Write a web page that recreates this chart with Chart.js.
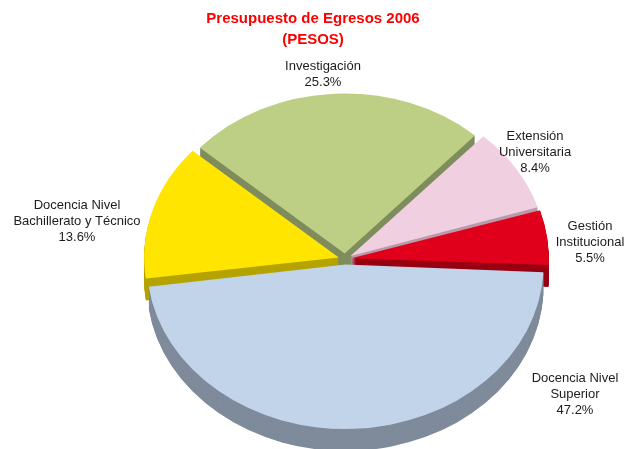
<!DOCTYPE html>
<html><head><meta charset="utf-8">
<script src="https://cdn.jsdelivr.net/npm/chart.js@4"></script>
<style>html,body{margin:0;background:#fff}canvas{display:block}</style>
</head><body>
<canvas id="egresosChart" width="626" height="449"></canvas>
<script>
const categories = ["Docencia Nivel Superior", "Docencia Nivel Bachillerato y Técnico", "Investigación", "Extensión Universitaria", "Gestión Institucional"];
const shares = [47.2, 13.6, 25.3, 8.4, 5.5];
const labelLines = [["Docencia Nivel", "Superior"], ["Docencia Nivel", "Bachillerato y Técnico"], ["Investigación"], ["Extensión", "Universitaria"], ["Gestión", "Institucional"]];
const topColors = ["#c2d4e9", "#ffe500", "#bccf84", "#f0cfe0", "#e0001b"];
const sideColors = ["#7f8b9b", "#b5a300", "#7f8c5c", "#b99aaa", "#980012"];
const labelSpots = [[575, 378], [77, 205], [323, 66], [535, 136], [590, 226]];

const font = "Arial, 'Liberation Sans', sans-serif";
const tilt = 0.83, depth = 22, center = { x: 345, y: 259 };

// squash the pie into an ellipse around the wanted centre
function tiltCtx(chart, dy) {
  const ctx = chart.ctx, arc = chart.getDatasetMeta(0).data[0];
  ctx.translate(center.x, center.y + dy);
  ctx.scale(1, tilt);
  ctx.translate(-arc.x, -arc.y);
}

const pie3d = {
  id: "pie3d",
  beforeDatasetsDraw(chart) {
    const ctx = chart.ctx, arcs = chart.getDatasetMeta(0).data;
    // stack darker copies of every slice underneath to fake the depth
    for (let d = depth; d > 0; d--) {
      ctx.save();
      tiltCtx(chart, d);
      arcs.forEach((arc, i) => {
        const side = Object.create(arc);
        side.options = Object.assign({}, arc.options, { backgroundColor: sideColors[i], borderColor: sideColors[i] });
        arc.draw.call(side, ctx);
      });
      ctx.restore();
    }
    ctx.save();
    tiltCtx(chart, 0);
  },
  afterDatasetsDraw(chart) {
    chart.ctx.restore();
  },
  afterDraw(chart) {
    const ctx = chart.ctx;
    ctx.save();
    ctx.font = "13px " + font;
    ctx.fillStyle = "#1c1c1c";
    ctx.textAlign = "center";
    ctx.textBaseline = "middle";
    labelLines.forEach((lines, i) => {
      const [x, y] = labelSpots[i];
      lines.concat(shares[i].toFixed(1) + "%").forEach((t, j) => ctx.fillText(t, x, y + j * 16));
    });
    ctx.restore();
  }
};

new Chart(document.getElementById("egresosChart"), {
  type: "pie",
  data: {
    labels: categories,
    datasets: [{ data: shares, backgroundColor: topColors, borderWidth: 0, offset: 26, radius: 193, clip: false }]
  },
  options: {
    responsive: false,
    animation: false,
    rotation: 92.5,
    events: [],
    plugins: {
      legend: { display: false },
      tooltip: { enabled: false },
      title: {
        display: true,
        text: ["Presupuesto de Egresos 2006", "(PESOS)"],
        color: "#ff0000",
        font: { family: font, size: 15, weight: "bold", lineHeight: 1.4 },
        padding: { top: 8, bottom: 0 }
      }
    }
  },
  plugins: [pie3d]
});
</script>
</body></html>
